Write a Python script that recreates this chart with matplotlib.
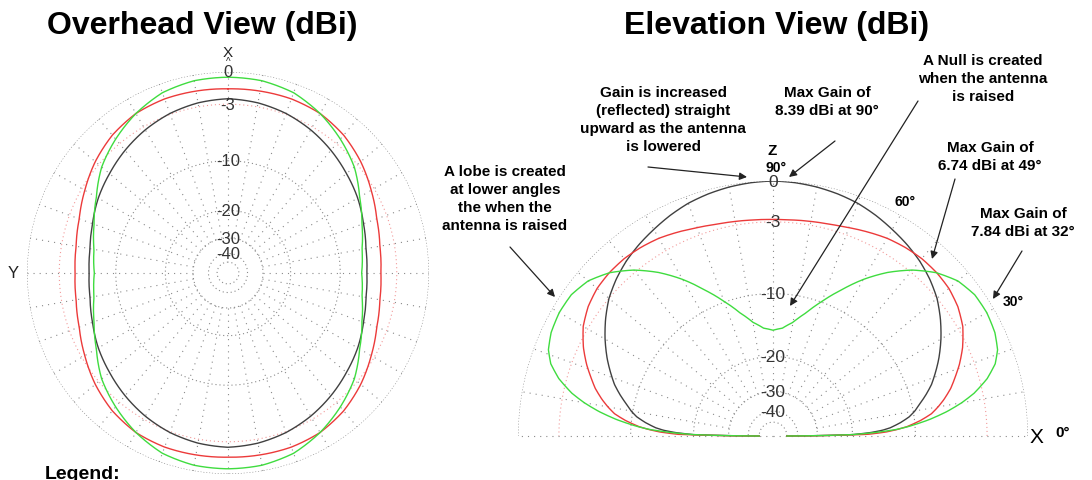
import numpy as np
import matplotlib.pyplot as plt

plt.rcParams['font.family'] = ['Liberation Sans', 'DejaVu Sans']

# relative gain (dB below the 8.39 dBi overall max)
# overhead view, azimuth 0..90 deg measured from X toward Y
az_deg = [0, 10, 20, 30, 40, 50, 60, 70, 80, 90]
az_black = [-2.45, -2.6, -2.9, -3.35, -3.9, -4.5, -5.05, -5.7, -6.2, -6.35]
az_red = [-1.5, -1.45, -1.4, -1.5, -1.9, -2.55, -3.35, -4.1, -4.55, -4.7]
az_green = [-0.45, -0.5, -0.8, -1.5, -2.4, -3.4, -4.8, -5.9, -6.7, -7.0]

# elevation view, 0..90 deg above the horizon
el_deg = [0, 1, 2, 3, 4, 6, 8, 10, 12, 15, 18, 21, 25, 30, 35, 40, 45,
          50, 55, 60, 65, 70, 75, 80, 85, 90]
el_black = [-50, -20, -16.5, -14.5, -13.3, -11.8, -10.6, -9.8, -9.2, -8.2,
            -7.3, -6.6, -5.7, -4.7, -3.8, -3.0, -2.4, -1.9, -1.5, -1.15,
            -0.8, -0.5, -0.3, -0.15, -0.05, 0.0]
el_red = [-50, -17, -14, -12.3, -11, -9.3, -8, -7.2, -6.5, -5.6, -4.9,
          -4.2, -3.4, -2.6, -2.1, -1.8, -1.68, -1.66, -1.75, -1.9, -2.15,
          -2.4, -2.6, -2.7, -2.78, -2.8]
el_green = [-50, -20, -15.5, -12.5, -10.8, -8.3, -6.4, -4.9, -3.7, -2.4,
            -1.5, -1.0, -0.7, -0.56, -0.6, -0.95, -1.7, -2.8, -4.2, -5.9,
            -7.9, -9.9, -11.9, -13.6, -14.7, -15.1]

ring_levels = [0, -10, -20, -30, -40, -50]
ring_labels = ['0', '-3', '-10', '-20', '-30', '-40']
label_levels = [0, -3, -10, -20, -30, -40]

C_BLACK = '#404040'
C_RED = '#ec3a3a'
C_GREEN = '#3fdc3f'
C_GRID = '#8a8a8a'


# ARRL style log scale: radius shrinks by 0.89 for every 2 dB
def arrl_fwd(db):
    return 0.89 ** (-np.asarray(db, dtype=float) / 2.0)


def arrl_inv(r):
    r = np.maximum(np.asarray(r, dtype=float), 1e-12)
    return -2.0 * np.log(r) / np.log(0.89)


def mirror_half(deg, vals):
    d = np.array(deg, float)
    v = np.array(vals, float)
    return np.concatenate([d, 180 - d[-2::-1]]), np.concatenate([v, v[-2::-1]])


def mirror_full(deg, vals):
    d, v = mirror_half(deg, vals)
    return np.concatenate([d, 360 - d[-2::-1]]), np.concatenate([v, v[-2::-1]])


def setup_polar(ax):
    ax.set_rscale('function', functions=(arrl_fwd, arrl_inv))
    ax.set_rlim(-200, 0)
    ax.grid(False)
    ax.set_xticks([])
    ax.set_yticks([])
    ax.spines['polar'].set_visible(False)
    ax.patch.set_alpha(0)


def draw_rings(ax, t0, t1):
    th = np.radians(np.linspace(t0, t1, 721))
    for lvl in ring_levels:
        ls = (0, (1, 1.6)) if lvl == 0 else (0, (1, 2.6))
        ax.plot(th, np.full_like(th, lvl), color=C_GRID, lw=0.8, ls=ls)
    ax.plot(th, np.full_like(th, -3), color='#f29a9a', lw=0.8, ls=(0, (1, 2.6)))


def draw_pattern(ax, th, vals, col):
    line, = ax.plot(th, vals, color=col, lw=1.0)
    # let the polar transform bend each segment along the angle
    line.get_path()._interpolation_steps = 16
    return line


fig = plt.figure(figsize=(10.92, 4.81), dpi=100)
W, H = 1092.0, 481.0

# ---- overhead (azimuth) view ----
cx, cy, R = 228, 274, 201
ax1 = fig.add_axes([(cx - R) / W, (H - cy - R) / H, 2 * R / W, 2 * R / H],
                   projection='polar')
setup_polar(ax1)
ax1.set_theta_zero_location('N')
ax1.set_theta_direction(1)
draw_rings(ax1, 0, 360)
for a in range(0, 360, 10):
    ax1.plot([np.radians(a)] * 2, [-30, 0], color=C_GRID, lw=0.8,
             ls=(0, (1, 4.5)))
for vals, col in [(az_black, C_BLACK), (az_red, C_RED), (az_green, C_GREEN)]:
    d, v = mirror_full(az_deg, vals)
    draw_pattern(ax1, np.radians(d), v, col)
for lvl, txt in zip(label_levels, ring_labels):
    ax1.text(0, lvl, txt, ha='center', va='center', fontsize=12, color='#333333')
ax1.set_rlim(-200, 0)

# ---- elevation view (upper half of a full polar frame) ----
ex, ey, ER = 773, 437, 255
ax2 = fig.add_axes([(ex - ER) / W, (H - ey - ER) / H, 2 * ER / W, 2 * ER / H],
                   projection='polar')
setup_polar(ax2)
draw_rings(ax2, 0, 180)
for a in range(10, 180, 10):
    ax2.plot([np.radians(a)] * 2, [-30, 0], color=C_GRID, lw=0.8,
             ls=(0, (1, 4.5)))
for a in (0, 180):
    ax2.plot([np.radians(a)] * 2, [-200, 0], color=C_GRID, lw=0.8,
             ls=(0, (1, 4.5)))
for vals, col in [(el_black, C_BLACK), (el_red, C_RED), (el_green, C_GREEN)]:
    d, v = mirror_half(el_deg, vals)
    draw_pattern(ax2, np.radians(d), v, col)
for lvl, txt in zip(label_levels, ring_labels):
    ax2.text(np.pi / 2, lvl, txt, ha='center', va='center', fontsize=12.5,
             color='#333333')
ax2.set_rlim(-200, 0)

# ---- text layer in pixel coordinates ----
ov = fig.add_axes([0, 0, 1, 1], zorder=5)
ov.set_xlim(0, W)
ov.set_ylim(H, 0)
ov.axis('off')
ov.patch.set_alpha(0)

ov.text(202, 26, 'Overhead View (dBi)', ha='center', va='center',
        fontsize=23, fontweight='bold')
ov.text(777, 26, 'Elevation View (dBi)', ha='center', va='center',
        fontsize=23, fontweight='bold')
ov.text(228, 53, 'X', ha='center', va='center', fontsize=11, color='#222222')
ov.text(228, 62, '^', ha='center', va='center', fontsize=7, color='#222222')
ov.text(13, 274, 'Y', ha='center', va='center', fontsize=12, color='#222222')
ov.text(45, 466, 'Legend:', ha='left', va='top', fontsize=14, fontweight='bold')

ov.text(772, 151, 'Z', ha='center', va='center', fontsize=11, fontweight='bold')
ov.text(776, 168, '90°', ha='center', va='center', fontsize=10, fontweight='bold')
ov.text(905, 202, '60°', ha='center', va='center', fontsize=10, fontweight='bold')
ov.text(1013, 302, '30°', ha='center', va='center', fontsize=10, fontweight='bold')
ov.text(1036, 438, 'X', ha='center', va='center', fontsize=15)
ov.text(1063, 433, '0°', ha='center', va='center', fontsize=11, fontweight='bold')

notes = [
    ('Gain is increased\n(reflected) straight\nupward as the antenna\nis lowered',
     (663, 120), (648, 168), (747, 178)),
    ('Max Gain of\n8.39 dBi at 90°', (827, 102), (835, 142), (789, 178)),
    ('A Null is created\nwhen the antenna\nis raised', (983, 79), (918, 102), (790, 307)),
    ('Max Gain of\n6.74 dBi at 49°', (990, 157), (955, 180), (932, 260)),
    ('Max Gain of\n7.84 dBi at 32°', (1023, 223), (1022, 252), (993, 300)),
    ('A lobe is created\nat lower angles\nthe when the\nantenna is raised',
     (505, 199), (510, 248), (555, 298)),
]
for txt, pos, tail, tip in notes:
    ov.text(pos[0], pos[1], txt, ha='center', va='center', fontsize=11,
            fontweight='bold', linespacing=1.35)
    ov.annotate('', xy=tip, xytext=tail,
                arrowprops=dict(arrowstyle='-|>', color='#222222', lw=0.9,
                                mutation_scale=11, shrinkA=0, shrinkB=0))

fig.savefig('out.png', dpi=100)
